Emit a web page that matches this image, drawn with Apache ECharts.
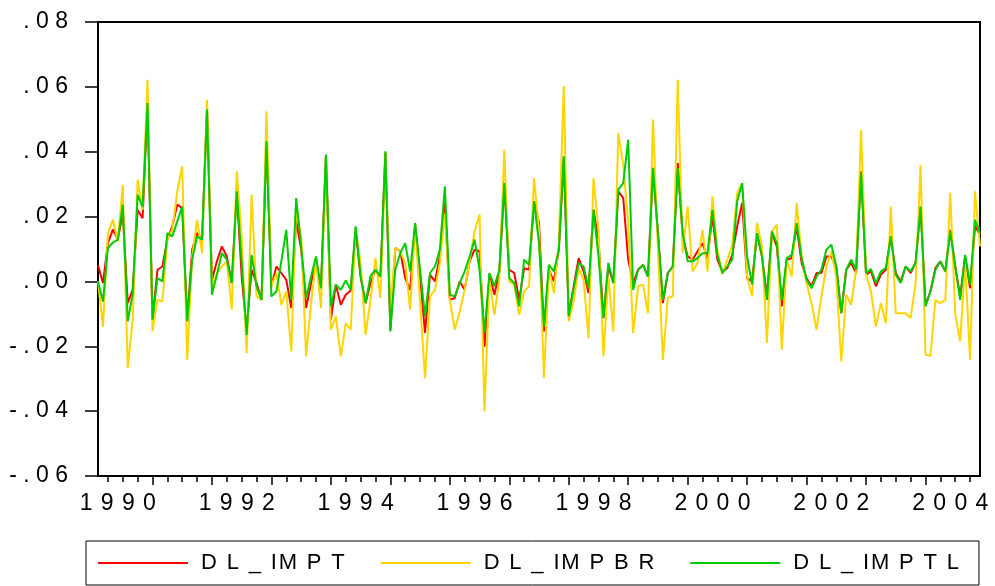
<!DOCTYPE html>
<html>
<head>
<meta charset="utf-8">
<script src="https://cdn.jsdelivr.net/npm/echarts@6/dist/echarts.min.js"></script>
<style>
  html, body { margin: 0; padding: 0; background: #ffffff; }
  #chart { width: 995px; height: 586px; }
</style>
</head>
<body>
<div id="chart"></div>
<script>
// Monthly log-differences, 1990M02 – 2004M12
const dlImpt = [
  0.0050, -0.0005, 0.0118, 0.0160, 0.0130, 0.0210, -0.0067, -0.0026, 0.0220, 0.0195,
  0.0550, -0.0118, 0.0036, 0.0046, 0.0129, 0.0170, 0.0237, 0.0226, -0.0123, 0.0098,
  0.0149, 0.0129, 0.0530, 0.0005, 0.0062, 0.0108, 0.0077, -0.0005, 0.0278, 0.0015,
  -0.0149, 0.0036, -0.0005, -0.0057, 0.0432, -0.0015, 0.0046, 0.0026, 0.0005, -0.0082,
  0.0190, 0.0098, -0.0082, -0.0005, 0.0057, -0.0015, 0.0386, -0.0118, -0.0010, -0.0072,
  -0.0041, -0.0028, 0.0159, 0.0015, -0.0067, -0.0005, 0.0036, 0.0015, 0.0396, -0.0149,
  0.0103, 0.0093, 0.0010, -0.0026, 0.0175, 0.0015, -0.0159, 0.0021, 0.0000, 0.0077,
  0.0242, -0.0057, -0.0051, 0.0000, -0.0026, 0.0062, 0.0098, 0.0093, -0.0201, 0.0021,
  -0.0041, 0.0031, 0.0298, 0.0036, 0.0026, -0.0057, 0.0041, 0.0036, 0.0247, 0.0180,
  -0.0154, 0.0036, 0.0000, 0.0098, 0.0381, -0.0103, -0.0015, 0.0072, 0.0031, -0.0036,
  0.0221, 0.0129, -0.0113, 0.0046, -0.0005, 0.0278, 0.0257, 0.0067, -0.0005, 0.0036,
  0.0051, 0.0015, 0.0350, 0.0149, -0.0067, 0.0026, 0.0046, 0.0365, 0.0139, 0.0077,
  0.0067, 0.0093, 0.0118, 0.0072, 0.0201, 0.0067, 0.0031, 0.0041, 0.0082, 0.0170,
  0.0242, 0.0010, 0.0000, 0.0149, 0.0077, -0.0046, 0.0149, 0.0108, -0.0077, 0.0067,
  0.0072, 0.0170, 0.0057, 0.0010, -0.0015, 0.0026, 0.0026, 0.0077, 0.0077, 0.0046,
  -0.0098, 0.0036, 0.0057, 0.0026, 0.0340, 0.0021, 0.0031, -0.0015, 0.0021, 0.0036,
  0.0139, 0.0026, 0.0000, 0.0046, 0.0026, 0.0057, 0.0231, -0.0072, -0.0031, 0.0041,
  0.0062, 0.0031, 0.0159, 0.0046, -0.0046, 0.0077, -0.0021, 0.0170, 0.0144
];
const dlImpbr = [
  0.0000, -0.0140, 0.0149, 0.0190, 0.0123, 0.0298, -0.0267, -0.0118, 0.0314, 0.0220,
  0.0622, -0.0154, -0.0057, -0.0062, 0.0129, 0.0160, 0.0278, 0.0355, -0.0242, 0.0077,
  0.0190, 0.0087, 0.0560, -0.0015, 0.0026, 0.0046, 0.0062, -0.0087, 0.0340, 0.0139,
  -0.0221, 0.0267, -0.0046, -0.0057, 0.0525, -0.0015, 0.0026, -0.0072, -0.0031, -0.0216,
  0.0221, 0.0139, -0.0231, -0.0067, 0.0067, -0.0082, 0.0386, -0.0149, -0.0108, -0.0231,
  -0.0129, -0.0149, 0.0159, 0.0057, -0.0165, -0.0057, 0.0072, -0.0051, 0.0396, -0.0087,
  0.0103, 0.0093, 0.0057, -0.0087, 0.0180, -0.0067, -0.0298, -0.0046, -0.0026, 0.0057,
  0.0211, -0.0057, -0.0149, -0.0093, -0.0026, 0.0062, 0.0154, 0.0206, -0.0401, 0.0005,
  -0.0103, 0.0005, 0.0406, 0.0000, -0.0010, -0.0103, -0.0031, -0.0015, 0.0319, 0.0159,
  -0.0298, 0.0041, -0.0036, 0.0118, 0.0602, -0.0123, -0.0062, 0.0041, 0.0005, -0.0175,
  0.0319, 0.0159, -0.0231, 0.0015, -0.0154, 0.0458, 0.0360, 0.0185, -0.0159, -0.0015,
  -0.0010, -0.0098, 0.0499, 0.0100, -0.0242, -0.0051, -0.0046, 0.0622, 0.0087, 0.0231,
  0.0031, 0.0057, 0.0159, 0.0031, 0.0262, 0.0098, 0.0021, 0.0067, 0.0113, 0.0273,
  0.0303, 0.0015, -0.0046, 0.0180, 0.0108, -0.0190, 0.0154, 0.0175, -0.0211, 0.0067,
  0.0015, 0.0242, 0.0077, -0.0005, -0.0067, -0.0149, -0.0046, 0.0046, 0.0093, 0.0015,
  -0.0247, -0.0041, -0.0072, 0.0036, 0.0468, 0.0021, -0.0031, -0.0139, -0.0067, -0.0129,
  0.0231, -0.0098, -0.0098, -0.0098, -0.0113, -0.0005, 0.0360, -0.0226, -0.0229, -0.0057,
  -0.0067, -0.0057, 0.0273, -0.0098, -0.0185, 0.0057, -0.0242, 0.0278, 0.0108
];
const dlImptl = [
  0.0000, -0.0062, 0.0103, 0.0120, 0.0129, 0.0237, -0.0123, -0.0040, 0.0267, 0.0230,
  0.0550, -0.0118, 0.0010, 0.0000, 0.0149, 0.0139, 0.0185, 0.0231, -0.0123, 0.0067,
  0.0139, 0.0129, 0.0530, -0.0041, 0.0021, 0.0087, 0.0067, -0.0005, 0.0278, 0.0057,
  -0.0165, 0.0082, -0.0015, -0.0057, 0.0432, -0.0046, -0.0031, 0.0062, 0.0159, -0.0057,
  0.0257, 0.0108, -0.0051, 0.0015, 0.0077, -0.0021, 0.0391, -0.0077, -0.0010, -0.0026,
  0.0003, -0.0026, 0.0170, 0.0015, -0.0067, 0.0017, 0.0036, 0.0015, 0.0401, -0.0154,
  0.0036, 0.0087, 0.0118, 0.0031, 0.0180, 0.0036, -0.0108, 0.0026, 0.0046, 0.0098,
  0.0293, -0.0041, -0.0046, -0.0005, 0.0031, 0.0077, 0.0129, 0.0036, -0.0159, 0.0026,
  -0.0015, 0.0036, 0.0303, 0.0010, -0.0005, -0.0077, 0.0067, 0.0051, 0.0247, 0.0118,
  -0.0139, 0.0051, 0.0031, 0.0098, 0.0386, -0.0108, -0.0021, 0.0057, 0.0046, -0.0021,
  0.0221, 0.0077, -0.0113, 0.0057, -0.0005, 0.0283, 0.0303, 0.0437, -0.0026, 0.0036,
  0.0051, 0.0015, 0.0350, 0.0149, -0.0057, 0.0026, 0.0046, 0.0350, 0.0149, 0.0062,
  0.0062, 0.0072, 0.0087, 0.0087, 0.0221, 0.0082, 0.0026, 0.0046, 0.0067, 0.0247,
  0.0303, 0.0077, -0.0010, 0.0149, 0.0077, -0.0057, 0.0154, 0.0118, -0.0057, 0.0072,
  0.0082, 0.0180, 0.0072, 0.0005, -0.0021, 0.0015, 0.0036, 0.0098, 0.0113, 0.0046,
  -0.0098, 0.0036, 0.0067, 0.0036, 0.0334, 0.0026, 0.0038, -0.0005, 0.0031, 0.0041,
  0.0139, 0.0021, -0.0005, 0.0046, 0.0031, 0.0057, 0.0231, -0.0077, -0.0031, 0.0036,
  0.0062, 0.0031, 0.0154, 0.0046, -0.0057, 0.0082, -0.0010, 0.0190, 0.0149
];

const seriesNames = ['DL_IMPT', 'DL_IMPBR', 'DL_IMPTL'];
const seriesColors = ['#ff0000', '#ffd400', '#00cc00'];
const yearLabels = ['1990', '1992', '1994', '1996', '1998', '2000', '2002', '2004'];

// Period labels (yyyyMmm), one per observation
const months = [];
for (let k = 0; k < dlImpt.length; k++) {
  const m = k + 1;
  const yr = 1990 + Math.floor(m / 12);
  const mo = (m % 12) + 1;
  months.push(yr + 'M' + String(mo).padStart(2, '0'));
}

// spread the characters of a label apart (a narrow 'I' takes only a hair gap)
function spaced(s, gap) {
  let out = '';
  for (let k = 0; k < s.length; k++) {
    out += s[k];
    if (k < s.length - 1) out += (s[k] === 'I' ? '\u200A' : gap);
  }
  return out;
}

const font = 'Liberation Sans, Arial, sans-serif';

const chart = echarts.init(document.getElementById('chart'), null, { renderer: 'canvas' });

chart.setOption({
  animation: false,
  backgroundColor: '#ffffff',
  grid: {
    left: 98, right: 15, top: 22, bottom: 110,
    show: true, borderColor: '#000000', borderWidth: 2, backgroundColor: 'transparent'
  },
  xAxis: [
    {
      type: 'category',
      data: months,
      boundaryGap: false,
      position: 'bottom',
      axisLine: { show: true, onZero: false, lineStyle: { color: '#000000', width: 2 } },
      axisTick: {
        show: true, length: 9, lineStyle: { color: '#000000', width: 1.5 },
        interval: function (idx, val) { return val.slice(4) === 'M01'; }
      },
      axisLabel: {
        show: true,
        interval: function (idx, val) {
          return val.slice(4) === 'M06' && yearLabels.indexOf(val.slice(0, 4)) >= 0;
        },
        formatter: function (val) { return spaced(val.slice(0, 4), ' \u200A'); },
        color: '#000000', fontSize: 23, fontFamily: font, margin: 16
      },
      splitLine: { show: false }
    },
    {
      // quarterly minor ticks
      type: 'category',
      data: months,
      boundaryGap: false,
      position: 'bottom',
      offset: 0,
      axisLine: { show: false, onZero: false },
      axisTick: {
        show: true, length: 6, lineStyle: { color: '#000000', width: 1.5 },
        interval: function (idx, val) {
          const mo = val.slice(4);
          return mo === 'M04' || mo === 'M07' || mo === 'M10';
        }
      },
      axisLabel: { show: false },
      splitLine: { show: false }
    }
  ],
  yAxis: {
    type: 'value',
    min: -0.06, max: 0.08, interval: 0.02,
    axisLine: { show: true, onZero: false, lineStyle: { color: '#000000', width: 2 } },
    axisTick: { show: true, length: 13, lineStyle: { color: '#000000', width: 1.5 } },
    splitLine: { show: false },
    axisLabel: {
      color: '#000000', fontSize: 23, fontFamily: font, margin: 30,
      formatter: function (v) {
        const neg = v < -1e-9;
        const s = Math.abs(v).toFixed(2).replace(/^0/, '');
        return spaced((neg ? '-' : '') + s, ' ');
      }
    }
  },
  legend: {
    show: true,
    left: 86, top: 541,
    width: 900,
    padding: [11, 20, 11, 12],
    itemGap: 36,
    icon: 'rect',
    itemWidth: 90, itemHeight: 2,
    borderColor: '#000000', borderWidth: 1, backgroundColor: '#ffffff',
    textStyle: { color: '#000000', fontSize: 22, fontFamily: font, padding: [0, 0, 0, 8] },
    formatter: function (name) { return spaced(name, ' \u200A\u200A'); },
    data: seriesNames
  },
  series: [
    { name: seriesNames[0], type: 'line', data: dlImpt, symbol: 'none',
      lineStyle: { color: seriesColors[0], width: 2 }, itemStyle: { color: seriesColors[0] } },
    { name: seriesNames[1], type: 'line', data: dlImpbr, symbol: 'none',
      lineStyle: { color: seriesColors[1], width: 2 }, itemStyle: { color: seriesColors[1] } },
    { name: seriesNames[2], type: 'line', data: dlImptl, symbol: 'none',
      lineStyle: { color: seriesColors[2], width: 2 }, itemStyle: { color: seriesColors[2] } }
  ]
});
</script>
</body>
</html>
